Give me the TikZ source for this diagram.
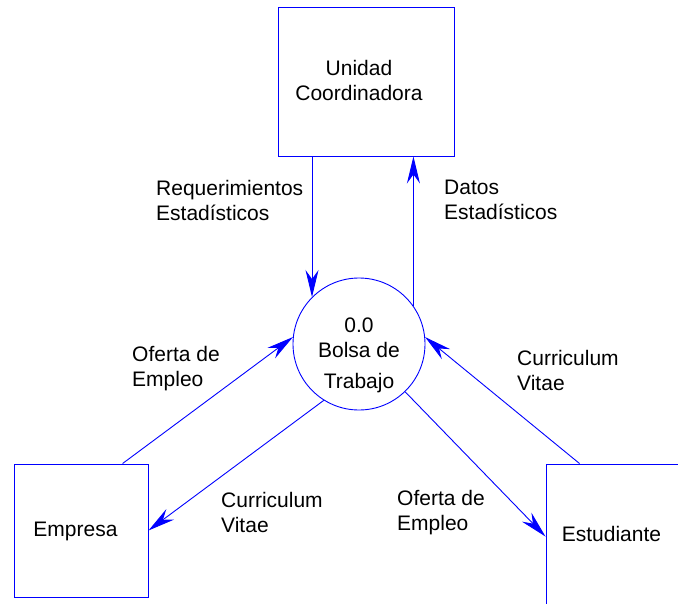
\documentclass[tikz,border=0pt]{standalone}
\usepackage{fontspec}
\setmainfont{Liberation Sans}
\usetikzlibrary{arrows.meta,calc}
\begin{document}
\begin{tikzpicture}[x=1pt,y=-1pt,
  every node/.style={font=\fontsize{21}{25}\selectfont, inner sep=0pt},
  entity/.style={draw=blue, line width=0.9pt, rectangle, inner sep=0pt},
  process/.style={draw=blue, line width=0.9pt, circle, minimum size=132pt, inner sep=0pt},
  flow/.style={draw=blue, line width=0.9pt, -{Stealth[length=27pt,width=13pt,inset=9pt]}},
  lbl/.style={align=left, anchor=west},
]
\clip (0,0) rectangle (678,603);

% external entities and the process
\node[entity, minimum width=176pt, minimum height=149pt] (uc) at (366,81.5) {};
\node[entity, minimum width=134pt, minimum height=133pt] (emp) at (81,530.5) {};
\node[entity, minimum width=136pt, minimum height=142pt] (est) at (614,535) {};
\node[process] (bt) at (359,344) {};

% texts inside the shapes
\node[align=center] (uctext) at (359,80) {Unidad\\Coordinadora};
\node (emptext) at (75.5,531) {Empresa};
\node (esttext) at (611.5,534) {Estudiante};
\node[align=center] (bttext) at (359,355) {0.0\\Bolsa de\\[6pt]Trabajo};

% data flows
\draw[flow] (uc.south -| bt.135.4) -- (bt.135.4);
\draw[flow] (bt.35.1) -- (uc.south -| bt.35.1);
\draw[flow] ($(emp.north west)+(109,0)$) -- (bt.174.8);
\draw[flow] (bt.238.6) -- (emp.east);
\draw[flow] ($(est.north west)+(34,0)$) -- (bt.6);
\draw[flow] (bt.-46.8) -- ($(est.north west)+(0,73)$);

% flow labels
\node[lbl] (lreq) at (156,200) {Requerimientos\\Estadísticos};
\node[lbl] (ldat) at (444,200) {Datos\\Estadísticos};
\node[lbl] (lof1) at (132,369) {Oferta de\\Empleo};
\node[lbl] (lcv1) at (517,370) {Curriculum\\Vitae};
\node[lbl] (lcv2) at (221,512) {Curriculum\\Vitae};
\node[lbl] (lof2) at (397,513) {Oferta de\\Empleo};
\end{tikzpicture}
\end{document}
